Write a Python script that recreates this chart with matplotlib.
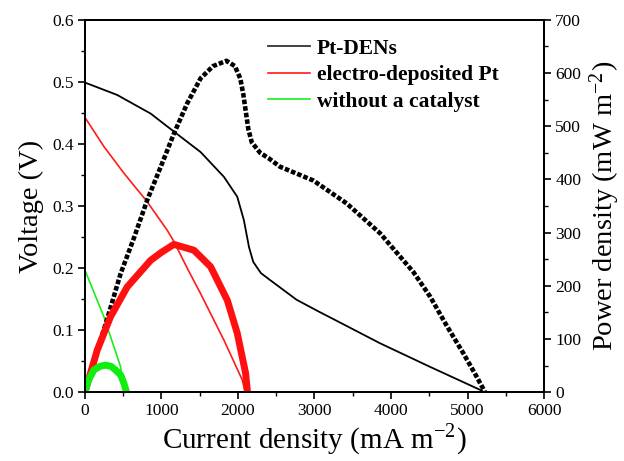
import numpy as np
import matplotlib
matplotlib.use('Agg')
import matplotlib.pyplot as plt
from matplotlib.ticker import MultipleLocator

# values
# Pt-DENs
den_j_v = [0, 422, 859, 1163, 1512, 1817, 1991, 2078, 2144, 2200, 2300, 2418, 2767,
           3072, 3246, 3856, 4510, 5163, 5220]
den_v = [0.499, 0.479, 0.449, 0.420, 0.387, 0.347, 0.315, 0.277, 0.234, 0.210, 0.192,
         0.181, 0.149, 0.129, 0.118, 0.079, 0.041, 0.004, 0.0]
den_j_p = [0, 118, 292, 467, 641, 814, 989, 1163, 1337, 1512, 1675, 1850, 1960, 2030,
           2070, 2100, 2135, 2180, 2290, 2400, 2549, 2985, 3420, 3856, 4292, 4510,
           4728, 4946, 5120, 5229]
den_p = [0, 58, 138, 223, 290, 361, 423, 486, 543, 590, 613, 623, 613, 590,
         560, 530, 495, 470, 450, 440, 424, 398, 355, 299, 226, 180,
         125, 73, 29, 0]

# electro-deposited Pt
ed_j_v = [0, 248, 510, 814, 1076, 1163, 1337, 1512, 1817, 2056, 2095]
ed_v = [0.443, 0.396, 0.353, 0.307, 0.261, 0.243, 0.200, 0.159, 0.084, 0.020, 0.0]
ed_j_p = [0, 161, 335, 553, 859, 1000, 1163, 1425, 1643, 1861, 1991, 2100, 2125]
ed_p = [0, 79, 142, 198, 248, 263, 278, 267, 236, 173, 111, 36, 0]

# without a catalyst
nc_j_v = [0, 248, 467, 510]
nc_v = [0.197, 0.122, 0.041, 0.0]
nc_j_p = [0, 45, 118, 200, 270, 340, 401, 470, 510, 545]
nc_p = [0, 22, 42, 49, 51, 49, 42, 32, 17, 0]

plt.rcParams['font.family'] = 'Liberation Serif'
plt.rcParams['mathtext.fontset'] = 'stix'

fig = plt.figure(figsize=(6.24, 4.61), dpi=100)
ax = fig.add_axes([0.136, 0.149, 0.736, 0.808])
ax2 = ax.twinx()

l1, = ax.plot(den_j_v, den_v, color='k', lw=1.3, label='Pt-DENs')
l2, = ax.plot(ed_j_v, ed_v, color='#ff1a1a', lw=1.2, label='electro-deposited Pt')
l3, = ax.plot(nc_j_v, nc_v, color='#1aee1a', lw=1.2, label='without a catalyst')

ax2.plot(den_j_p, den_p, color='k', lw=3.3, linestyle=(0, (1.0, 0.45)), dash_capstyle='butt')
ax2.plot(ed_j_p, ed_p, color='#ff1010', lw=5, solid_capstyle='butt')
ax2.plot(nc_j_p, nc_p, color='#10ee10', lw=5, solid_capstyle='butt')

ax.set_xlim(0, 6000)
ax.set_ylim(0, 0.6)
ax2.set_ylim(0, 700)

ax.xaxis.set_major_locator(MultipleLocator(1000))
ax.xaxis.set_minor_locator(MultipleLocator(500))
ax.yaxis.set_minor_locator(MultipleLocator(0.05))
ax2.yaxis.set_major_locator(MultipleLocator(100))
ax2.yaxis.set_minor_locator(MultipleLocator(50))
ax.set_yticks(np.arange(0, 0.61, 0.1))
ax.set_yticklabels(['%.1f' % v for v in np.arange(0, 0.61, 0.1)])

for a in (ax, ax2):
    a.tick_params(which='major', length=5, width=1.2, labelsize=12.5, pad=3)
    a.tick_params(which='minor', length=3, width=1.0)
    for s in a.spines.values():
        s.set_linewidth(1.4)
ax.tick_params(axis='both', which='both', top=False, right=False)

sup = r'$^{\mathregular{-2}}$'
ax.set_xlabel('Current density (mA m' + sup + ')', fontsize=21, labelpad=2)
ax.set_ylabel('Voltage (V)', fontsize=20.5, labelpad=6)
ax2.set_ylabel('Power density (mW m' + sup + ')', fontsize=20.5, labelpad=4)

leg = ax.legend(handles=[l1, l2, l3], loc='upper left', bbox_to_anchor=(0.365, 0.99),
                frameon=False, prop={'weight': 'bold', 'size': 15.5}, handlelength=1.95,
                handletextpad=0.35, labelspacing=0.3, borderaxespad=0.3)
leg.legend_handles[0].set_color('#333333')

fig.savefig('out.png', dpi=100)
